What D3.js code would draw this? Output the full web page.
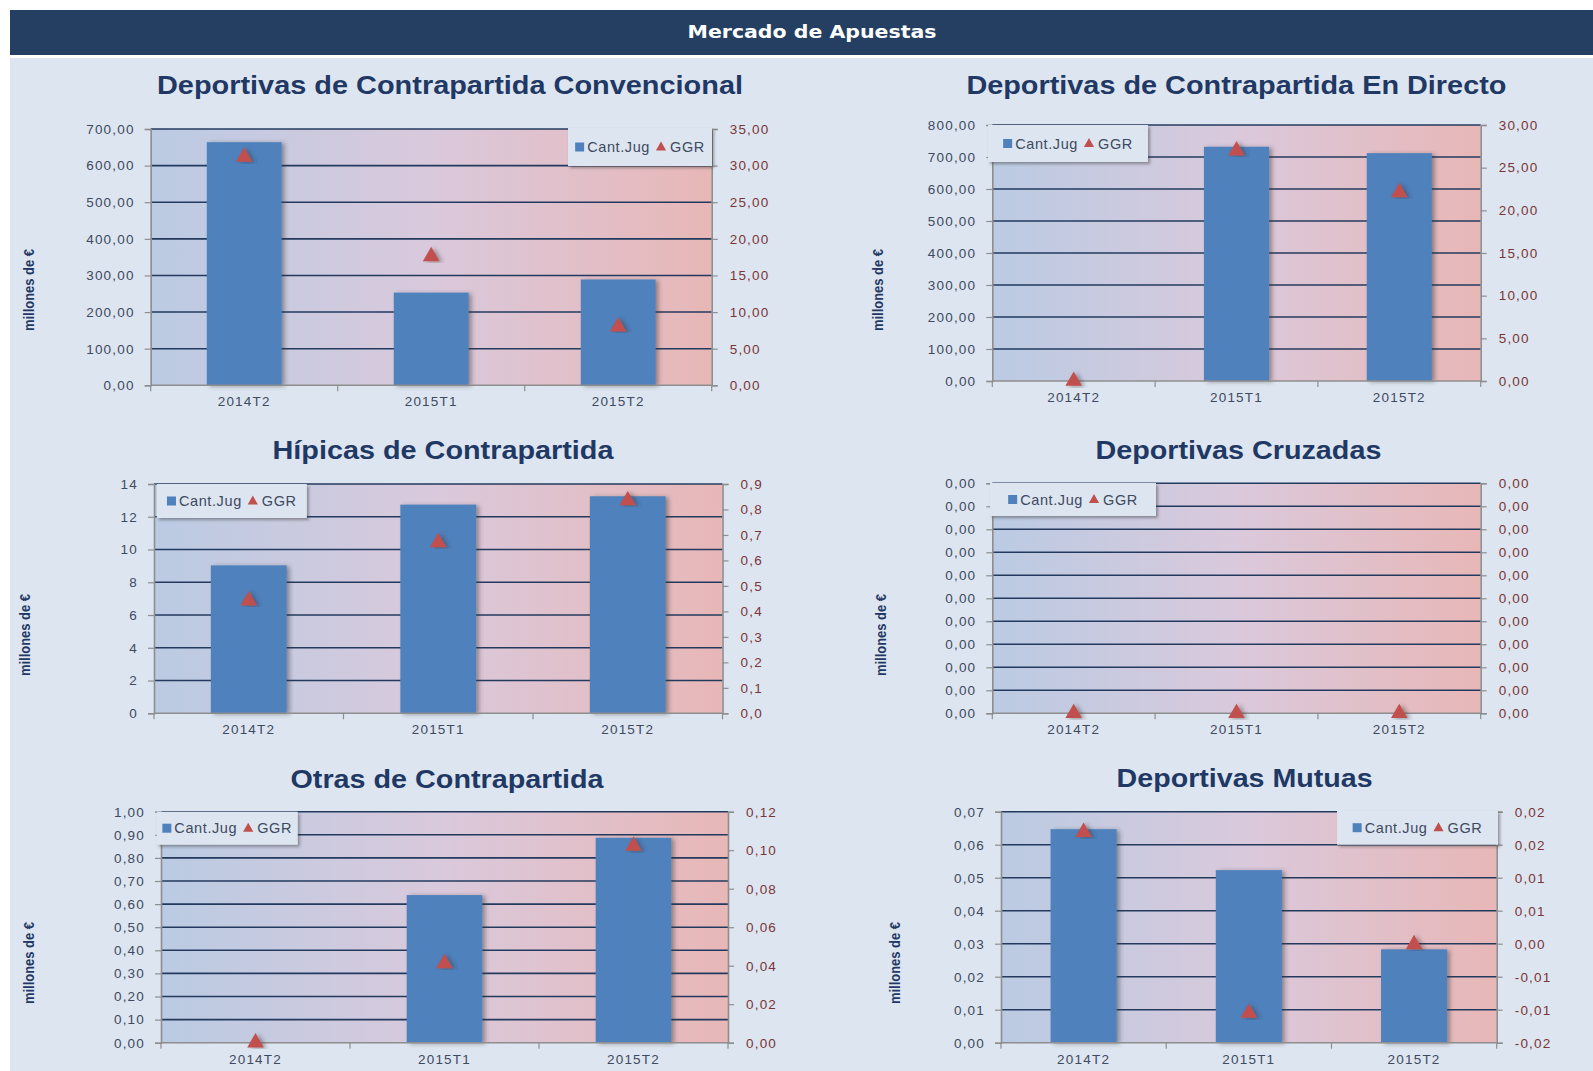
<html><head>
<meta charset="utf-8">
<title>Mercado de Apuestas</title>
<script src="https://d3js.org/d3.v7.min.js"></script>
<style>
  body { margin: 0; background: #ffffff; }
  text { font-family: "Liberation Sans", Arial, sans-serif; }
</style>
</head>
<body>
<svg id="board" width="1593" height="1071"></svg>
<script>
// ---- data ----
const categories = ["2014T2", "2015T1", "2015T2"];
const seriesNames = ["Cant.Jug", "GGR"];

const titles = [
  "Deportivas de Contrapartida Convencional",
  "Deportivas de Contrapartida En Directo",
  "Hípicas de Contrapartida",
  "Deportivas Cruzadas",
  "Otras de Contrapartida",
  "Deportivas Mutuas"
];

// bars (left axis) per chart
const cantJug = [
  [664, 253, 289],
  [0, 732, 712],
  [9.03, 12.74, 13.25],
  [0, 0, 0],
  [0, 0.639, 0.887],
  [0.0647, 0.0523, 0.0283]
];
// triangles (right axis) per chart
const ggr = [
  [31.2, 17.6, 8.0],
  [0, 27.0, 22.1],
  [0.442, 0.671, 0.835],
  [0, 0, 0],
  [0, 0.0412, 0.1022],
  [0.0169, -0.0105, -0.0001]
];
// axis ranges: [min, max, step, decimals]
const leftAxes = [
  [0, 700, 100, 2],
  [0, 800, 100, 2],
  [0, 14, 2, 0],
  [0, 0.001, 0.0001, 2],
  [0, 1, 0.1, 2],
  [0, 0.07, 0.01, 2]
];
const rightAxes = [
  [0, 35, 5, 2],
  [0, 30, 5, 2],
  [0, 0.9, 0.1, 1],
  [0, 0.001, 0.0001, 2],
  [0, 0.12, 0.02, 2],
  [-0.015, 0.02, 0.005, 2]
];
const yTitle = "millones de €";

// ---- layout ----
const layout = [
  {l: 150.7, r: 711.7, t: 129, b: 385.3, tx: 450, ty: 94, tw: 586, yx: 28.5, yy: 290, lg: [568, 128, 144, 38]},
  {l: 992.3, r: 1480.7, t: 125, b: 381, tx: 1236.4, ty: 94, tw: 540, yx: 878, yy: 290, lg: [988, 125, 160, 37]},
  {l: 154, r: 722.5, t: 484, b: 713.3, tx: 443, ty: 459, tw: 341, yx: 25.4, yy: 635, lg: [156.8, 484, 150, 34]},
  {l: 992.3, r: 1480.7, t: 483.3, b: 713.3, tx: 1238.4, ty: 459, tw: 286, yx: 881, yy: 635, lg: [990, 483, 166, 33]},
  {l: 161, r: 728, t: 811.7, b: 1042.7, tx: 447, ty: 788, tw: 313, yx: 28.5, yy: 963, lg: [156.7, 811.7, 141, 33]},
  {l: 1001, r: 1496.7, t: 811.7, b: 1042.7, tx: 1244.6, ty: 787, tw: 256, yx: 895, yy: 963, lg: [1337, 810.7, 161, 34]}
];

const barColor = "#4f81bd";
const triColor = "#c0504d";
const gridColor = "#233a5e";
const axisColor = "#8e8e8e";
const leftText = "#3d4a60";
const rightText = "#7a3636";
const titleColor = "#1f3864";

// excel-like rounding with a decimal comma
function fmt(dec) {
  return v => {
    const p = Math.pow(10, dec);
    let r = Math.sign(v) * Math.round(Math.abs(v) * p + 1e-6) / p;
    if (r === 0) r = 0;
    return r.toFixed(dec).replace(".", ",");
  };
}

const svg = d3.select("svg#board");
const defs = svg.append("defs");

const grad = defs.append("linearGradient").attr("id", "plotbg")
  .attr("x1", "0%").attr("x2", "100%").attr("y1", "0%").attr("y2", "0%");
grad.append("stop").attr("offset", "0%").attr("stop-color", "#bacbe3");
grad.append("stop").attr("offset", "50%").attr("stop-color", "#dac9dc");
grad.append("stop").attr("offset", "100%").attr("stop-color", "#e8b7b7");

const barShadow = defs.append("filter").attr("id", "barShadow")
  .attr("x", "-20%").attr("y", "-10%").attr("width", "150%").attr("height", "120%");
barShadow.append("feDropShadow").attr("dx", 3).attr("dy", 1).attr("stdDeviation", 2)
  .attr("flood-color", "#333").attr("flood-opacity", 0.45);

const boxShadow = defs.append("filter").attr("id", "boxShadow")
  .attr("x", "-10%").attr("y", "-20%").attr("width", "130%").attr("height", "160%");
boxShadow.append("feDropShadow").attr("dx", 2).attr("dy", 2).attr("stdDeviation", 1.5)
  .attr("flood-color", "#333").attr("flood-opacity", 0.45);

// page background and header
svg.append("rect").attr("x", 10).attr("y", 58).attr("width", 1583).attr("height", 1013).attr("fill", "#dde5f0");
svg.append("rect").attr("x", 10).attr("y", 10).attr("width", 1583).attr("height", 45).attr("fill", "#243f61");
svg.append("text")
  .attr("x", 812).attr("y", 38)
  .attr("text-anchor", "middle")
  .attr("fill", "#ffffff")
  .style("font-family", "'DejaVu Sans', Verdana, sans-serif")
  .style("font-weight", "bold")
  .style("font-size", "17px")
  .attr("textLength", 249).attr("lengthAdjust", "spacingAndGlyphs")
  .text("Mercado de Apuestas");

titles.forEach((title, i) => {
  const L = layout[i];
  const g = svg.append("g");
  const la = leftAxes[i], ra = rightAxes[i];

  let x = d3.scaleBand().domain(categories).range([L.l, L.r]).paddingInner(0.6).paddingOuter(0.3);
  let yL = d3.scaleLinear().domain([la[0], la[1]]).range([L.b, L.t]);
  let yR = d3.scaleLinear().domain([ra[0], ra[1]]).range([L.b, L.t]);
  let leftTicks = d3.range(0, Math.round((la[1] - la[0]) / la[2]) + 1).map(k => la[0] + k * la[2]);
  let rightTicks = d3.range(0, Math.round((ra[1] - ra[0]) / ra[2]) + 1).map(k => ra[0] + k * ra[2]);

  // title
  g.append("text")
    .attr("x", L.tx).attr("y", L.ty)
    .attr("text-anchor", "middle")
    .attr("fill", titleColor)
    .style("font-weight", "bold")
    .style("font-size", "25px")
    .attr("textLength", L.tw).attr("lengthAdjust", "spacingAndGlyphs")
    .text(title);

  // y title
  g.append("text")
    .attr("transform", "translate(" + L.yx + "," + L.yy + ") rotate(-90)")
    .attr("text-anchor", "middle")
    .attr("dominant-baseline", "central")
    .attr("fill", titleColor)
    .style("font-weight", "bold")
    .style("font-size", "14px")
    .attr("textLength", 82).attr("lengthAdjust", "spacingAndGlyphs")
    .text(yTitle);

  // plot background
  g.append("rect")
    .attr("x", L.l).attr("y", L.t)
    .attr("width", L.r - L.l).attr("height", L.b - L.t)
    .attr("fill", "url(#plotbg)");

  // gridlines
  g.append("g").selectAll("line")
    .data(leftTicks.slice(1))
    .join("line")
    .attr("x1", L.l).attr("x2", L.r)
    .attr("y1", d => yL(d)).attr("y2", d => yL(d))
    .attr("stroke", gridColor).attr("stroke-width", 1.6);

  // left axis
  let leftAxis = d3.axisLeft(yL).tickValues(leftTicks).tickSize(6).tickPadding(10).tickFormat(fmt(la[3]));
  let gl = g.append("g").attr("transform", "translate(" + L.l + ",0)").call(leftAxis);
  gl.select(".domain").attr("stroke", axisColor).attr("stroke-width", 1.6);
  gl.selectAll(".tick line").attr("stroke", axisColor).attr("stroke-width", 1.2);
  gl.selectAll(".tick text").attr("fill", leftText)
    .style("font-family", "'Liberation Sans', Arial, sans-serif")
    .style("font-size", "13.5px").style("letter-spacing", "1.2px");

  // right axis
  let rightAxis = d3.axisRight(yR).tickValues(rightTicks).tickSize(6).tickPadding(12).tickFormat(fmt(ra[3]));
  let gr = g.append("g").attr("transform", "translate(" + L.r + ",0)").call(rightAxis);
  gr.select(".domain").attr("stroke", axisColor).attr("stroke-width", 1.6);
  gr.selectAll(".tick line").attr("stroke", axisColor).attr("stroke-width", 1.2);
  gr.selectAll(".tick text").attr("fill", rightText)
    .style("font-family", "'Liberation Sans', Arial, sans-serif")
    .style("font-size", "13.5px").style("letter-spacing", "1.2px");

  // bars
  g.append("g").selectAll("rect")
    .data(cantJug[i].map((v, k) => ({cat: categories[k], v: v})).filter(d => d.v > 0))
    .join("rect")
    .attr("x", d => x(d.cat))
    .attr("y", d => yL(d.v))
    .attr("width", x.bandwidth())
    .attr("height", d => L.b - yL(d.v))
    .attr("fill", barColor)
    .attr("filter", "url(#barShadow)");

  // bottom axis: ticks on category boundaries
  let step = x.step();
  let gb = g.append("g");
  gb.append("line").attr("x1", L.l).attr("x2", L.r).attr("y1", L.b).attr("y2", L.b)
    .attr("stroke", axisColor).attr("stroke-width", 1.6);
  gb.selectAll("line.tk").data(d3.range(categories.length + 1)).join("line")
    .attr("class", "tk")
    .attr("x1", k => L.l + k * step).attr("x2", k => L.l + k * step)
    .attr("y1", L.b).attr("y2", L.b + 6)
    .attr("stroke", axisColor).attr("stroke-width", 1.2);
  gb.selectAll("text").data(categories).join("text")
    .attr("x", d => x(d) + x.bandwidth() / 2)
    .attr("y", L.b + 21)
    .attr("text-anchor", "middle")
    .attr("fill", leftText)
    .style("font-size", "13.5px").style("letter-spacing", "1.2px")
    .text(d => d);

  // triangles
  g.append("g").selectAll("path")
    .data(ggr[i].map((v, k) => ({cat: categories[k], v: v})))
    .join("path")
    .attr("d", d3.symbol(d3.symbolTriangle, 120))
    .attr("transform", d => "translate(" + (x(d.cat) + x.bandwidth() / 2) + "," + yR(d.v) + ")")
    .attr("fill", triColor)
    .attr("filter", "url(#barShadow)");

  // legend
  let [lx, ly, lw, lh] = L.lg;
  let lgG = g.append("g");
  lgG.append("rect").attr("x", lx).attr("y", ly).attr("width", lw).attr("height", lh)
    .attr("fill", "#dde5f0").attr("filter", "url(#boxShadow)");
  let inner = lgG.append("g");
  let cy = ly + lh / 2;
  inner.append("rect").attr("x", 0).attr("y", cy - 4.5).attr("width", 9).attr("height", 9).attr("fill", barColor);
  let t1 = inner.append("text").attr("x", 12).attr("y", cy + 5)
    .attr("fill", leftText).style("font-size", "14.5px").style("letter-spacing", "0.6px")
    .text(seriesNames[0]);
  let w1 = t1.node().getComputedTextLength();
  let triX = 12 + w1 + 11;
  inner.append("path").attr("d", d3.symbol(d3.symbolTriangle, 45))
    .attr("transform", "translate(" + triX + "," + (cy + 0.5) + ")")
    .attr("fill", triColor);
  let t2 = inner.append("text").attr("x", triX + 9).attr("y", cy + 5)
    .attr("fill", leftText).style("font-size", "14.5px").style("letter-spacing", "0.6px")
    .text(seriesNames[1]);
  let total = triX + 9 + t2.node().getComputedTextLength();
  inner.attr("transform", "translate(" + (lx + (lw - total) / 2) + ",0)");
});
</script>
</body>
</html>
